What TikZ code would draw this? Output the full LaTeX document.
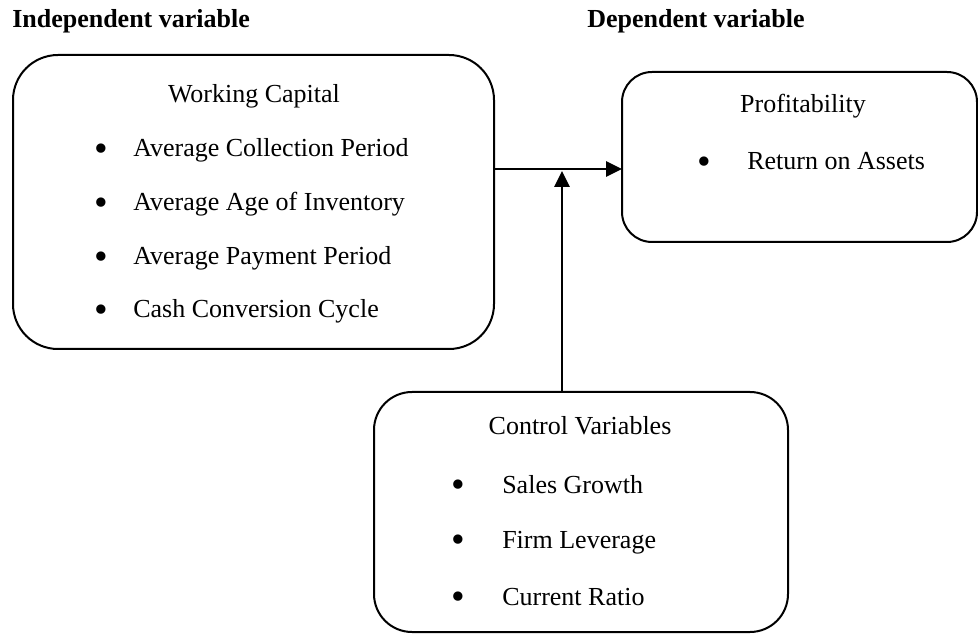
\documentclass[tikz,border=0pt]{standalone}
\usepackage{fontspec}
\setmainfont{Liberation Serif}
\usetikzlibrary{arrows.meta}
\tikzset{
  box/.style={draw, line width=1.5pt, inner sep=0pt, outer sep=0pt},
  txt/.style={font=\fontsize{19.5}{23}\selectfont, inner sep=0pt, anchor=base west},
  ttl/.style={font=\fontsize{19.5}{23}\selectfont, inner sep=0pt, anchor=base},
  bul/.style={font=\fontsize{19.5}{23}\selectfont, inner sep=0pt, anchor=base, yshift=-3.5pt},
  head/.style={font=\fontsize{19.5}{23}\selectfont\bfseries, inner sep=0pt, anchor=base west},
  arr/.style={line width=1.5pt, -{Triangle[length=12pt,width=11.5pt]}}
}
\newcommand{\bigbul}{\scalebox{1.5}{•}}
\begin{document}
\begin{tikzpicture}[x=0.75pt,y=-0.75pt]
\useasboundingbox (0,0) rectangle (978,634);
% headings
\node[head] (h1) at (12,28) {Independent variable};
\node[head] (h2) at (587,28) {Dependent variable};
% boxes
\node[box, rounded corners=33.75pt, minimum width=360.75pt, minimum height=220.5pt] (L) at (253.5,202) {};
\node[box, rounded corners=22.5pt, minimum width=266.25pt, minimum height=127.5pt] (R) at (799.5,157) {};
\node[box, rounded corners=28.5pt, minimum width=310.5pt, minimum height=180pt] (B) at (581,512) {};
% left box text
\node[ttl] (lt) at (254,103) {Working Capital};
\node[bul] (lb1) at (101,157) {\bigbul};
\node[bul] (lb2) at (101,211) {\bigbul};
\node[bul] (lb3) at (101,265) {\bigbul};
\node[bul] (lb4) at (101,318) {\bigbul};
\node[txt] (l1) at (133,157) {Average Collection Period};
\node[txt] (l2) at (133,211) {Average Age of Inventory};
\node[txt] (l3) at (133,265) {Average Payment Period};
\node[txt] (l4) at (133,318) {Cash Conversion Cycle};
% right box text
\node[ttl] (rt) at (803,113) {Profitability};
\node[bul] (rb1) at (704,170) {\bigbul};
\node[txt] (r1) at (747,170) {Return on Assets};
% bottom box text
\node[ttl] (bt) at (580,435) {Control Variables};
\node[bul] (bb1) at (458,493) {\bigbul};
\node[bul] (bb2) at (458,548) {\bigbul};
\node[bul] (bb3) at (458,605) {\bigbul};
\node[txt] (b1) at (502,493) {Sales Growth};
\node[txt] (b2) at (502,548) {Firm Leverage};
\node[txt] (b3) at (502,605) {Current Ratio};
% connectors
\coordinate (hy) at (0,169);
\coordinate (vx) at (562,171);
\draw[arr] (L.east |- hy) -- (R.west |- hy);
\draw[arr] (B.north -| vx) -- (vx);
\end{tikzpicture}
\end{document}
